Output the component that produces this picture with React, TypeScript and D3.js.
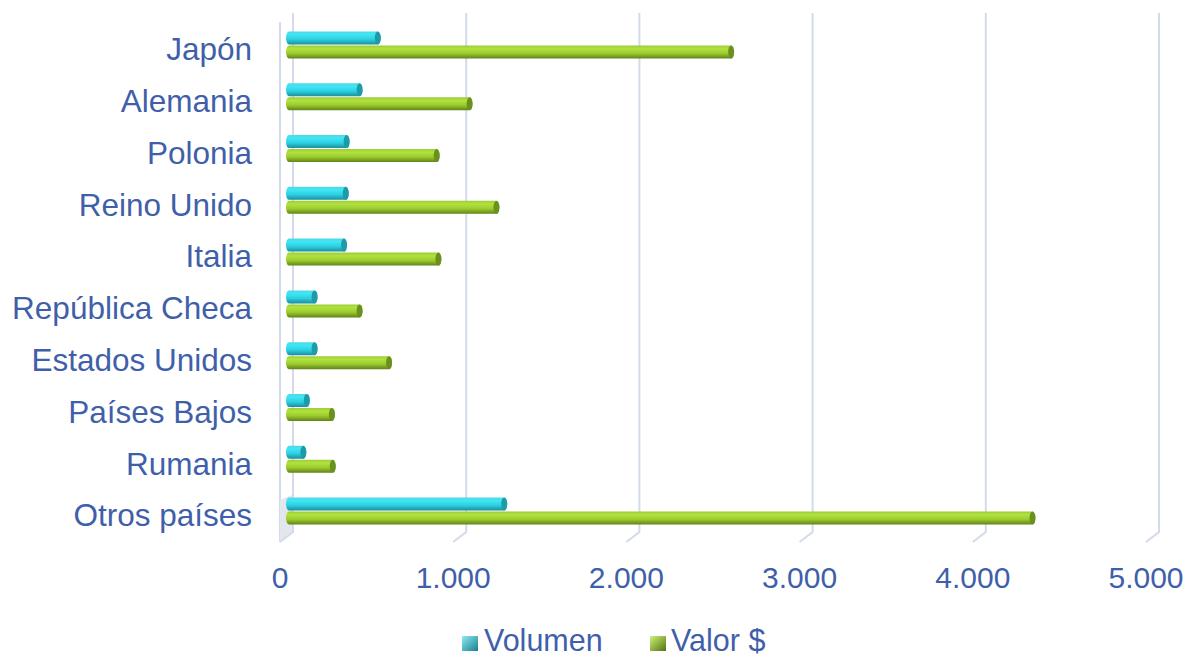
import React from "react";
import * as d3 from "d3";

const categories = ["Japón", "Alemania", "Polonia", "Reino Unido", "Italia", "República Checa", "Estados Unidos", "Países Bajos", "Rumania", "Otros países"];
const volumen = [530, 425, 350, 345, 335, 165, 165, 120, 100, 1260];
const valor = [2570, 1060, 870, 1215, 880, 425, 595, 265, 270, 4310];
const ticks = [0, 1000, 2000, 3000, 4000, 5000];
const tickLabels = ["0", "1.000", "2.000", "3.000", "4.000", "5.000"];
const seriesNames = ["Volumen", "Valor $"];

const W = 1188, H = 657;
const textColor = "#3F5FAA";
const gridColor = "#D3DAEC";

export default function App() {
  const x = d3.scaleLinear().domain([0, 5000]).range([286, 1152]);
  const y = d3.scaleBand<string>().domain(categories).range([19.1, 536.9]);
  const backDx = 7, frontDx = -6;
  const barH = 13;
  const font = "'Liberation Sans', Arial, sans-serif";

  const cyl = (x0: number, x1: number, cy: number, grad: string, cap: string, key: string) => {
    const r = barH / 2;
    const rx = 3;
    return (
      <g key={key}>
        <path
          d={`M${x0 + rx},${cy - r} L${x1},${cy - r} A${rx},${r} 0 0 1 ${x1},${cy + r} L${x0 + rx},${cy + r} A${rx},${r} 0 0 1 ${x0 + rx},${cy - r} Z`}
          fill={`url(#${grad})`}
        />
        <ellipse cx={x1} cy={cy} rx={rx} ry={r} fill={cap} />
      </g>
    );
  };

  return (
    <svg width={W} height={H} style={{ position: "absolute", left: 0, top: 0, background: "#fff" }}>
      <defs>
        <linearGradient id="gCyan" x1="0" y1="0" x2="0" y2="1">
          <stop offset="0" stopColor="#4FD8E4" />
          <stop offset="0.25" stopColor="#3FE6F4" />
          <stop offset="0.6" stopColor="#2DD0E2" />
          <stop offset="1" stopColor="#1A8E9C" />
        </linearGradient>
        <linearGradient id="gGreen" x1="0" y1="0" x2="0" y2="1">
          <stop offset="0" stopColor="#9CCC38" />
          <stop offset="0.25" stopColor="#B2E23E" />
          <stop offset="0.6" stopColor="#9CCB2E" />
          <stop offset="1" stopColor="#5F8418" />
        </linearGradient>
        <linearGradient id="lCyan" x1="0" y1="0" x2="1" y2="1">
          <stop offset="0" stopColor="#8FEAF2" />
          <stop offset="1" stopColor="#17808C" />
        </linearGradient>
        <linearGradient id="lGreen" x1="0" y1="0" x2="1" y2="1">
          <stop offset="0" stopColor="#D2F07A" />
          <stop offset="1" stopColor="#4F7410" />
        </linearGradient>
      </defs>
      {/* side wall */}
      <line x1={280} x2={280} y1={22} y2={542} stroke={gridColor} strokeWidth={2} />
      <path d="M280,500 L292,495 L292,532 L280,542 Z" fill="#E4E6EE" />
      {/* gridlines */}
      {ticks.map((t) => (
        <g key={t}>
          <polyline
            points={`${x(t) + backDx},13 ${x(t) + backDx},532 ${x(t) + frontDx},542`}
            fill="none"
            stroke={gridColor}
            strokeWidth={2}
          />
        </g>
      ))}
      {/* bars */}
      {categories.map((c, i) => {
        const cy = (y(c) as number) + y.bandwidth() / 2;
        return (
          <g key={c}>
            {cyl(x(0), x(volumen[i]), cy - 7, "gCyan", "#1E9AA8", c + "v")}
            {cyl(x(0), x(valor[i]), cy + 7, "gGreen", "#6A9120", c + "g")}
          </g>
        );
      })}
      {/* category labels */}
      {categories.map((c) => (
        <text
          key={c}
          x={252}
          y={(y(c) as number) + y.bandwidth() / 2 + 7}
          textAnchor="end"
          dominantBaseline="middle"
          fontFamily={font}
          fontSize={31.5}
          fill={textColor}
        >
          {c}
        </text>
      ))}
      {/* tick labels */}
      {ticks.map((t, i) => (
        <text
          key={t}
          x={x(t) + frontDx}
          y={580}
          textAnchor="middle"
          dominantBaseline="middle"
          fontFamily={font}
          fontSize={30}
          fill={textColor}
        >
          {tickLabels[i]}
        </text>
      ))}
      {/* legend */}
      {[
        { x: 462, tx: 484, grad: "lCyan", name: seriesNames[0] },
        { x: 650, tx: 671, grad: "lGreen", name: seriesNames[1] },
      ].map((l) => (
        <g key={l.name}>
          <rect x={l.x} y={636} width={16} height={15} fill={`url(#${l.grad})`} />
          <text x={l.tx} y={643} dominantBaseline="middle" fontFamily={font} fontSize={30.5} fill={textColor}>
            {l.name}
          </text>
        </g>
      ))}
    </svg>
  );
}
